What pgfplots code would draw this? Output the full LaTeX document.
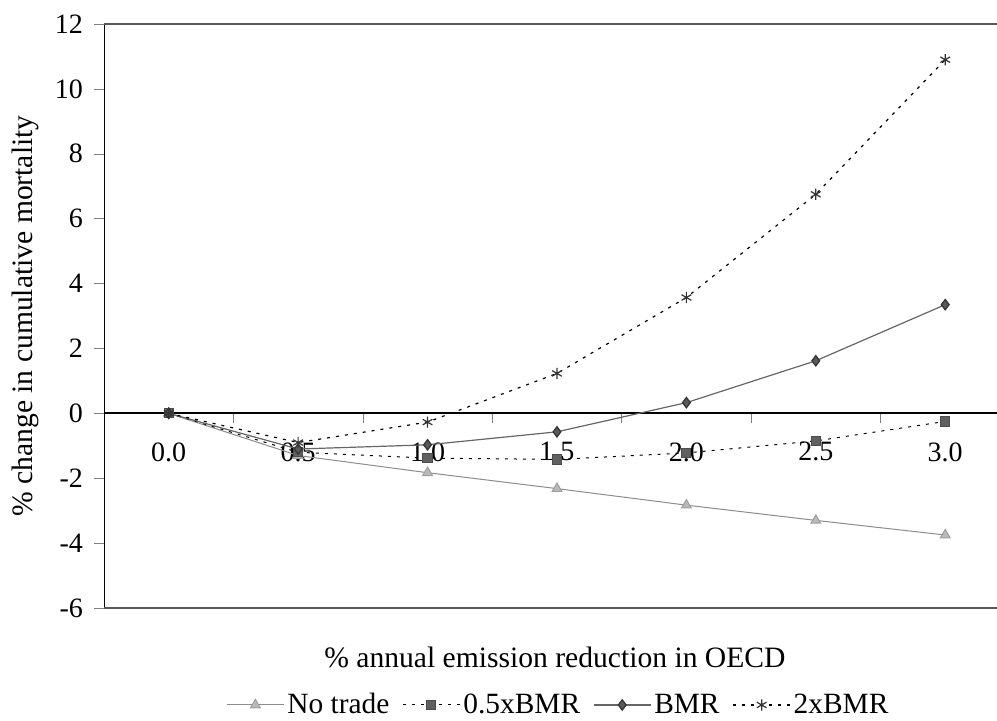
\documentclass[border=0pt]{standalone}
\usepackage{pgfplots}
\pgfplotsset{compat=1.18}
\usepackage{fontspec}
\setmainfont{Liberation Serif}
\definecolor{lgray}{gray}{0.55}
\definecolor{mgray}{gray}{0.4}
\begin{document}
\begin{tikzpicture}
\useasboundingbox (0,0) rectangle (498.5pt,360pt);
\begin{axis}[
  at={(52pt,56pt)}, anchor=south west,
  scale only axis, width=446.5pt, height=292pt,
  xmin=-0.5, xmax=6.4, ymin=-6, ymax=12,
  axis y line=left, axis x line=middle,
  y axis line style={-, line width=0.5pt},
  x axis line style={-, line width=1pt},
  ytick={-6,-4,...,12},
  ytick align=outside, xtick align=outside,
  major tick length=5pt,
  xtick={0.5,1.5,...,5.5}, xticklabels={},
  extra x ticks={0,1,2,3,4,5,6},
  extra x tick labels={0.0,0.5,1.0,1.5,2.0,2.5,3.0},
  extra x tick style={major tick length=0pt, tick label style={yshift=-11pt}},
  /pgf/number format/assume math mode=true,
  tick label style={font=\fontsize{14}{16}\selectfont},
  yticklabel style={xshift=-2pt},
  ylabel={\% change in cumulative mortality},
  ylabel style={at={(axis description cs:-0.088,0.5)}, anchor=center, font=\fontsize{14.8}{17}\selectfont},
  xlabel={\% annual emission reduction in OECD},
  xlabel style={at={(axis description cs:0.505,-0.084)}, anchor=center, font=\fontsize{14.8}{17}\selectfont},
  legend style={draw=none, at={(axis description cs:0.5095,-0.166)}, anchor=center,
    font=\fontsize{14.7}{17}\selectfont, legend columns=4,
    nodes={inner sep=1.5pt},
    /tikz/every even column/.append style={column sep=5pt}},
  legend image code/.code={\draw[mark repeat=2,mark phase=2] plot coordinates {(0cm,0cm) (0.5cm,0cm) (1cm,0cm)};},
  clip=false,
]
\draw[gray!70!black, line width=0.6pt] (axis cs:-0.5,12) -- (axis cs:6.4,12);
\draw[gray!70!black, line width=0.6pt] (axis cs:-0.5,-6) -- (axis cs:6.4,-6);
\addplot[lgray, line width=0.5pt, mark=triangle*, mark size=2.8pt, mark options={fill=gray!55, draw=gray!75}]
  coordinates {(0,0) (1,-1.3) (2,-1.83) (3,-2.32) (4,-2.83) (5,-3.3) (6,-3.75)};
\addlegendentry{No trade}
\addplot[black, line width=0.5pt, dash pattern=on 1.5pt off 3pt, mark=square*, mark size=2.3pt, mark options={solid, fill=gray!75!black, draw=gray!60!black}]
  coordinates {(0,0) (1,-1.2) (2,-1.38) (3,-1.42) (4,-1.22) (5,-0.85) (6,-0.25)};
\addlegendentry{0.5xBMR}
\addplot[mgray, line width=0.6pt, mark=diamond*, mark size=2.6pt, mark options={fill=gray!70!black, draw=gray!40!black}]
  coordinates {(0,0) (1,-1.1) (2,-0.97) (3,-0.57) (4,0.33) (5,1.62) (6,3.35)};
\addlegendentry{BMR}
\addplot[black, line width=0.6pt, dash pattern=on 1.5pt off 3pt, mark=asterisk, mark size=2.8pt, mark options={solid, draw=black!80}]
  coordinates {(0,0) (1,-0.9) (2,-0.27) (3,1.23) (4,3.57) (5,6.75) (6,10.9)};
\addlegendentry{2xBMR}
\end{axis}
\end{tikzpicture}
\end{document}
